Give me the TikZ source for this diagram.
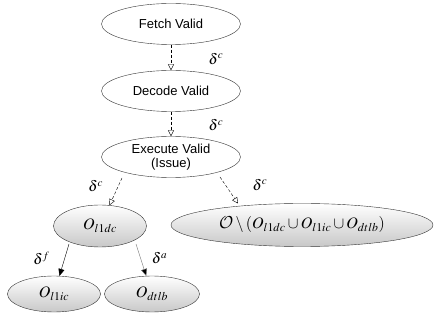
\documentclass[tikz,border=0pt]{standalone}
\usepackage{amsmath}
\usepackage{mathptmx}
\DeclareMathAlphabet{\mathcal}{OMS}{cmsy}{m}{n}
\usepackage{fontspec}
\setmainfont{Liberation Sans}
\usetikzlibrary{shapes.geometric, arrows.meta}
\definecolor{shadelow}{HTML}{C8C8C8}
\newcommand{\setmath}[1]{\fontsize{16}{18}\selectfont$#1$}
\newcommand{\lblmath}[1]{\fontsize{15}{16}\selectfont$#1$}

\begin{document}
\begin{tikzpicture}[x=1pt, y=-1pt, thin, font=\fontsize{13}{14.5}\selectfont]
\useasboundingbox (0,0) rectangle (434,320);

\tikzstyle{every node}=[ellipse, draw=black!80, fill=white, inner sep=0pt, minimum width=139pt, minimum height=41pt, align=center]
\draw    (171, 24)  node (fetch) {Fetch Valid}
         (171, 91)  node (decode) {Decode Valid}
         (171, 157) node (exec) {Execute Valid\\(Issue)};

\tikzstyle{every node}=[ellipse, draw=black!80, top color=white, bottom color=shadelow, inner sep=0pt, minimum width=93pt, minimum height=42pt]
\draw    (100, 226) node (l1dc) {\setmath{O_{l1dc}}}
         (302, 225) node[minimum width=262pt, minimum height=43pt] (rest) {\setmath{\mathcal{O}\setminus(O_{l1dc}\cup O_{l1ic}\cup O_{dtlb})}}
         (54, 294)  node[minimum height=36pt] (l1ic) {\setmath{O_{l1ic}}}
         (152, 294) node[minimum width=95pt, minimum height=36pt] (dtlb) {\setmath{O_{dtlb}}};

\tikzstyle{every node}=[draw=none, fill=none, inner sep=1pt]
\draw [dashed, dash pattern=on 3pt off 2pt, -{Triangle[open, length=6pt, width=6pt]}] (fetch) -- (decode) node [pos=0.55, xshift=45pt] {\lblmath{\delta^c}};
\draw [dashed, dash pattern=on 3pt off 2pt, -{Triangle[open, length=6pt, width=6pt]}] (decode) -- (exec) node [pos=0.55, xshift=45pt] {\lblmath{\delta^c}};
\draw [dashed, dash pattern=on 3pt off 2pt, -{Triangle[open, length=6pt, width=6pt]}] (122, 178) -- (l1dc) node [pos=0.3, left=14pt] {\lblmath{\delta^c}};
\draw [dashed, dash pattern=on 3pt off 2pt, -{Triangle[open, length=6pt, width=6pt]}] (220, 177) -- (238, 203.5) node [pos=0.3, right=26pt] {\lblmath{\delta^c}};
\draw [-{Triangle[length=7pt, width=6pt]}] (69, 244) -- (l1ic) node [pos=0.45, left=14pt] {\lblmath{\delta^f}};
\draw [draw=black!55, -{Triangle[length=7pt, width=6pt, fill=black]}] (136, 244) -- (dtlb) node [pos=0.45, right=10pt, text=black] {\lblmath{\delta^a}};

\end{tikzpicture}
\end{document}
